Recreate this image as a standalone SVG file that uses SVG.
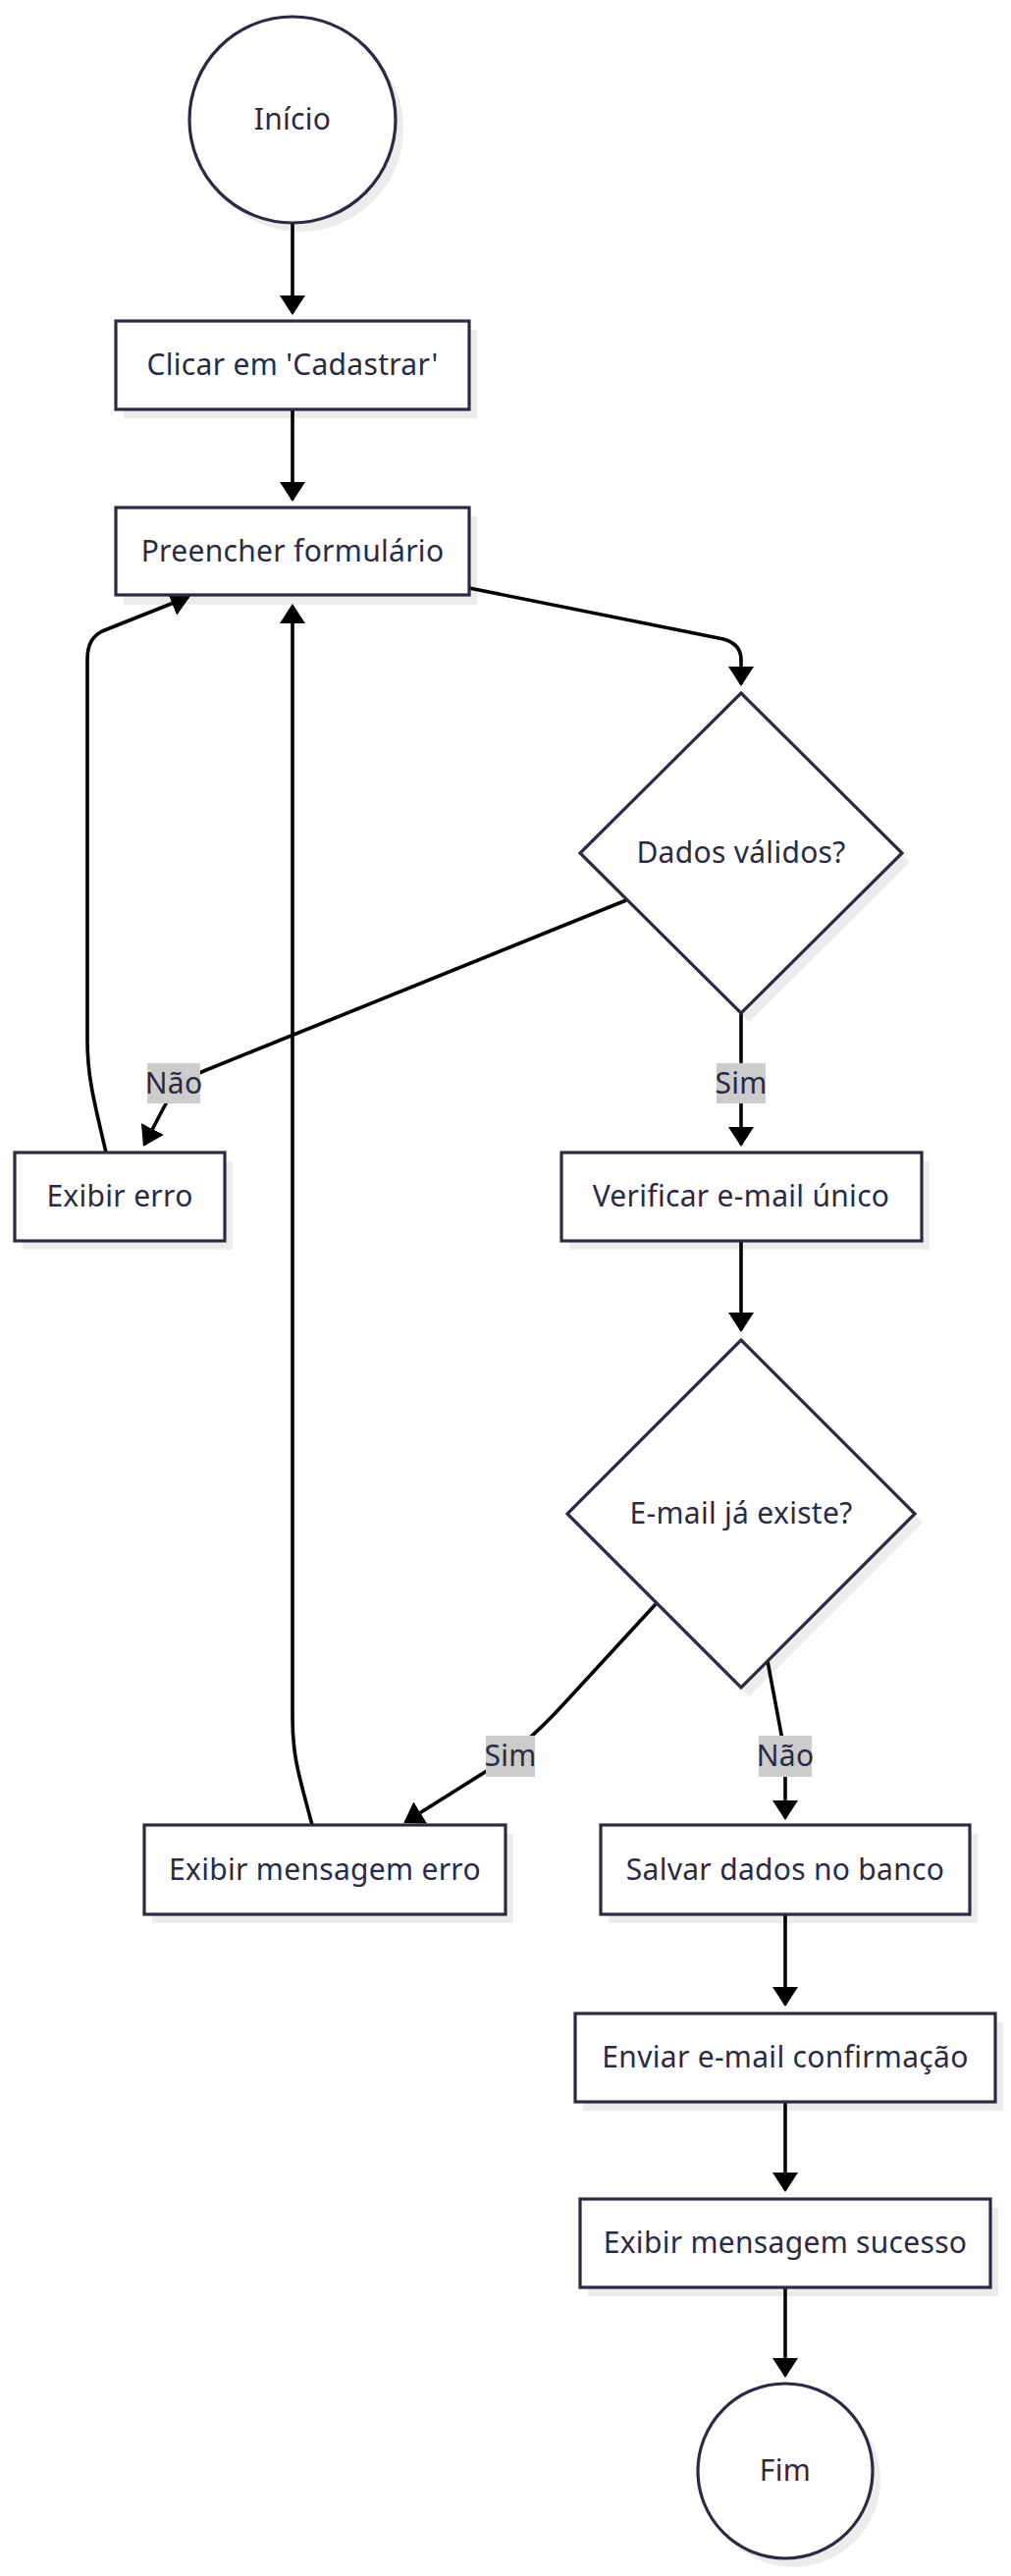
<svg xmlns="http://www.w3.org/2000/svg" width="1030" height="2624" viewBox="0 0 1030 2624">
  <style>
    .node { fill: #ffffff; stroke: #2a2a44; stroke-width: 3.2; }
    .shadow { fill: #ececec; stroke: none; }
    .label { font-family: "Noto Sans", "Open Sans", sans-serif; font-size: 30px; letter-spacing: 0.3px; fill: #2a2a44; text-anchor: middle; }
    .edge { fill: none; stroke: #000000; stroke-width: 3.6; }
    .edge-bg { fill: #cccccc; }
  </style>
  <defs>
    <marker id="arrow" markerUnits="userSpaceOnUse" markerWidth="20" markerHeight="26" viewBox="0 0 20 26" refX="18" refY="13" orient="auto">
      <path d="M0,0 L20,13 L0,26 z" fill="#000000"/>
    </marker>
  </defs>
  <rect width="1030" height="2624" fill="#ffffff"/>

  <!-- shadows under the nodes -->
  <g id="shadows">
    <circle class="shadow" cx="306" cy="131" r="105"/>
    <rect class="shadow" x="126" y="336" width="360" height="90"/>
    <rect class="shadow" x="126" y="526" width="360" height="90"/>
    <polygon class="shadow" points="763,715 927,878 763,1041 599,878"/>
    <rect class="shadow" x="23" y="1183" width="214" height="90"/>
    <rect class="shadow" x="580" y="1183" width="367" height="90"/>
    <polygon class="shadow" points="763,1374 940,1551 763,1728 586,1551"/>
    <rect class="shadow" x="155" y="1868" width="368" height="91"/>
    <rect class="shadow" x="620" y="1868" width="376" height="91"/>
    <rect class="shadow" x="594" y="2060" width="428" height="90"/>
    <rect class="shadow" x="599" y="2249" width="418" height="90"/>
    <circle class="shadow" cx="808" cy="2526" r="89"/>
  </g>

  <!-- connectors -->
  <g id="edges">
    <path class="edge" d="M298,227 L298,319" marker-end="url(#arrow)"/>
    <path class="edge" d="M298,417 L298,509" marker-end="url(#arrow)"/>
    <path class="edge" d="M478,599 L737,651 Q755,656 755,672 L755,697" marker-end="url(#arrow)"/>
    <path class="edge" d="M638,917 L210,1090 C190,1098 178,1108 168,1126 L147,1166" marker-end="url(#arrow)"/>
    <path class="edge" d="M755,1032 L755,1166" marker-end="url(#arrow)"/>
    <path class="edge" d="M108,1174 C98,1130 89,1100 89,1060 L89,672 C89,655 95,648 104,643 L192,608" marker-end="url(#arrow)"/>
    <path class="edge" d="M755,1264 L755,1355" marker-end="url(#arrow)"/>
    <path class="edge" d="M668,1634 L575,1735 Q545,1768 510,1795 L413,1856" marker-end="url(#arrow)"/>
    <path class="edge" d="M782,1692 L797,1772 Q800,1790 800,1810 L800,1852" marker-end="url(#arrow)"/>
    <path class="edge" d="M318,1859 C305,1810 298,1790 298,1750 L298,617" marker-end="url(#arrow)"/>
    <path class="edge" d="M800,1950 L800,2042" marker-end="url(#arrow)"/>
    <path class="edge" d="M800,2141 L800,2231" marker-end="url(#arrow)"/>
    <path class="edge" d="M800,2330 L800,2420" marker-end="url(#arrow)"/>

    <g id="edge-labels">
      <rect class="edge-bg" x="150" y="1083" width="54" height="41"/>
      <text class="label" x="177" y="1114">Não</text>
      <rect class="edge-bg" x="730" y="1083" width="50" height="41"/>
      <text class="label" x="755" y="1114">Sim</text>
      <rect class="edge-bg" x="495" y="1768" width="50" height="42"/>
      <text class="label" x="520" y="1799">Sim</text>
      <rect class="edge-bg" x="773" y="1768" width="54" height="42"/>
      <text class="label" x="800" y="1799">Não</text>
    </g>
  </g>

  <!-- nodes -->
  <g id="inicio">
    <circle class="node" cx="298" cy="122" r="105"/>
    <text class="label" x="298" y="132">Início</text>
  </g>
  <g id="clicar-cadastrar">
    <rect class="node" x="118" y="327" width="360" height="90"/>
    <text class="label" x="298" y="382">Clicar em 'Cadastrar'</text>
  </g>
  <g id="preencher-formulario">
    <rect class="node" x="118" y="517" width="360" height="89"/>
    <text class="label" x="298" y="572">Preencher formulário</text>
  </g>
  <g id="dados-validos">
    <polygon class="node" points="755,706 919,869 755,1032 591,869"/>
    <text class="label" x="755" y="879">Dados válidos?</text>
  </g>
  <g id="exibir-erro">
    <rect class="node" x="15" y="1174" width="214" height="90"/>
    <text class="label" x="122" y="1229">Exibir erro</text>
  </g>
  <g id="verificar-email">
    <rect class="node" x="572" y="1174" width="367" height="90"/>
    <text class="label" x="755" y="1229">Verificar e-mail único</text>
  </g>
  <g id="email-existe">
    <polygon class="node" points="755,1365 932,1542 755,1719 578,1542"/>
    <text class="label" x="755" y="1552">E-mail já existe?</text>
  </g>
  <g id="exibir-mensagem-erro">
    <rect class="node" x="147" y="1859" width="368" height="91"/>
    <text class="label" x="331" y="1915">Exibir mensagem erro</text>
  </g>
  <g id="salvar-dados">
    <rect class="node" x="612" y="1859" width="376" height="91"/>
    <text class="label" x="800" y="1915">Salvar dados no banco</text>
  </g>
  <g id="enviar-email">
    <rect class="node" x="586" y="2051" width="428" height="90"/>
    <text class="label" x="800" y="2106">Enviar e-mail confirmação</text>
  </g>
  <g id="exibir-sucesso">
    <rect class="node" x="591" y="2240" width="418" height="90"/>
    <text class="label" x="800" y="2295">Exibir mensagem sucesso</text>
  </g>
  <g id="fim">
    <circle class="node" cx="800" cy="2517" r="89"/>
    <text class="label" x="800" y="2527">Fim</text>
  </g>
</svg>
